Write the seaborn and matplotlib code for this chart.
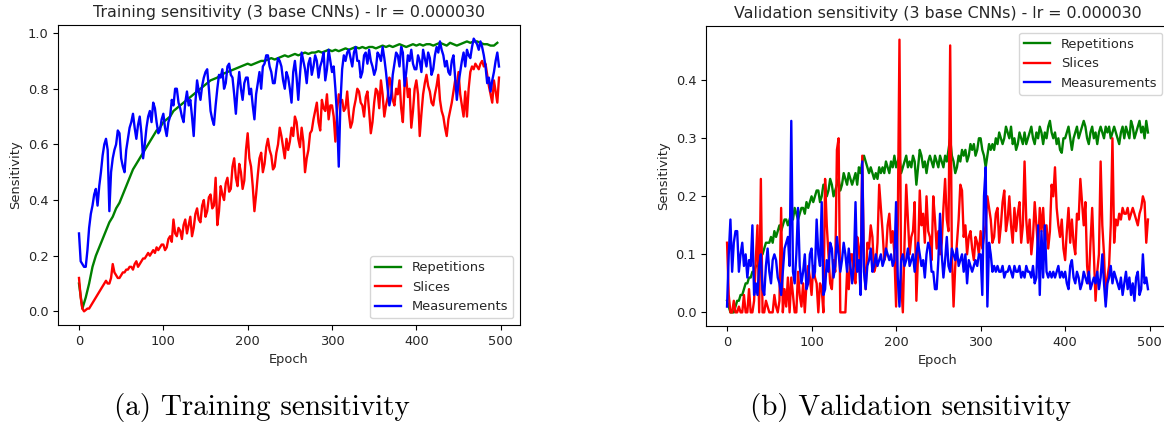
import numpy as np
import pandas as pd
import matplotlib
matplotlib.use("Agg")
import matplotlib.pyplot as plt
import seaborn as sns

# Most curves are logged every 2 epochs; the smooth training curve every 4
epochs = np.arange(0, 500, 2)
epochs_coarse = np.arange(0, 500, 4)

series_names = ["Repetitions", "Slices", "Measurements"]
series_colors = {"Repetitions": "green", "Slices": "red", "Measurements": "blue"}

train_repetitions = [
    0.10, 0.01, 0.05, 0.10, 0.16, 0.20, 0.23, 0.26, 0.29, 0.32, 0.34, 0.37, 0.39, 0.42, 0.45, 0.48, 0.51, 0.53, 0.55, 0.57, 0.59, 0.61, 0.63, 0.65, 0.66,
    0.68, 0.69, 0.70, 0.72, 0.73, 0.74, 0.75, 0.76, 0.77, 0.78, 0.79, 0.80, 0.81, 0.82, 0.83, 0.835, 0.84, 0.85, 0.855, 0.86, 0.865, 0.87, 0.875, 0.88, 0.885,
    0.89, 0.885, 0.89, 0.895, 0.90, 0.90, 0.905, 0.91, 0.905, 0.91, 0.915, 0.92, 0.915, 0.92, 0.925, 0.92, 0.925, 0.93, 0.925, 0.93, 0.93, 0.935, 0.93, 0.935, 0.94,
    0.935, 0.94, 0.935, 0.94, 0.945, 0.94, 0.945, 0.95, 0.945, 0.95, 0.945, 0.95, 0.95, 0.945, 0.95, 0.955, 0.95, 0.955, 0.95, 0.955, 0.96, 0.955, 0.95, 0.955, 0.96,
    0.955, 0.96, 0.955, 0.96, 0.96, 0.955, 0.96, 0.965, 0.96, 0.955, 0.965, 0.96, 0.955, 0.96, 0.965, 0.97, 0.965, 0.97, 0.97, 0.965, 0.96, 0.96, 0.955, 0.955, 0.965,
]
train_slices = [
    0.12, 0.05, 0.01, 0.0, 0.005, 0.01, 0.01, 0.02, 0.03, 0.04, 0.05, 0.06, 0.07, 0.08, 0.09, 0.10, 0.11, 0.10, 0.10, 0.12, 0.17, 0.14, 0.13, 0.12, 0.12,
    0.13, 0.14, 0.14, 0.15, 0.15, 0.16, 0.16, 0.15, 0.17, 0.18, 0.16, 0.17, 0.18, 0.19, 0.19, 0.20, 0.21, 0.20, 0.21, 0.22, 0.21, 0.23, 0.22, 0.23, 0.24,
    0.24, 0.22, 0.23, 0.26, 0.27, 0.25, 0.33, 0.28, 0.27, 0.30, 0.29, 0.26, 0.31, 0.33, 0.28, 0.31, 0.34, 0.27, 0.30, 0.35, 0.37, 0.33, 0.32, 0.38, 0.40,
    0.34, 0.36, 0.41, 0.42, 0.37, 0.38, 0.48, 0.31, 0.36, 0.45, 0.42, 0.40, 0.46, 0.48, 0.43, 0.44, 0.52, 0.55, 0.48, 0.45, 0.53, 0.50, 0.44, 0.47, 0.58,
    0.64, 0.55, 0.52, 0.45, 0.36, 0.42, 0.49, 0.55, 0.57, 0.50, 0.53, 0.59, 0.62, 0.58, 0.56, 0.51, 0.52, 0.57, 0.60, 0.66, 0.63, 0.59, 0.55, 0.62, 0.58,
    0.61, 0.66, 0.63, 0.70, 0.68, 0.62, 0.59, 0.66, 0.61, 0.50, 0.55, 0.58, 0.64, 0.65, 0.69, 0.72, 0.75, 0.68, 0.65, 0.76, 0.73, 0.72, 0.78, 0.69, 0.74,
    0.74, 0.70, 0.61, 0.72, 0.78, 0.75, 0.76, 0.72, 0.73, 0.79, 0.71, 0.66, 0.68, 0.73, 0.76, 0.80, 0.79, 0.75, 0.74, 0.70, 0.77, 0.79, 0.72, 0.64, 0.68,
    0.75, 0.80, 0.79, 0.73, 0.83, 0.78, 0.70, 0.74, 0.77, 0.84, 0.82, 0.76, 0.74, 0.80, 0.78, 0.83, 0.73, 0.68, 0.81, 0.84, 0.77, 0.80, 0.66, 0.72, 0.80,
    0.83, 0.78, 0.63, 0.71, 0.78, 0.82, 0.85, 0.81, 0.79, 0.75, 0.74, 0.78, 0.81, 0.85, 0.76, 0.72, 0.70, 0.66, 0.63, 0.69, 0.72, 0.75, 0.79, 0.83, 0.81,
    0.86, 0.78, 0.74, 0.70, 0.79, 0.70, 0.80, 0.86, 0.88, 0.87, 0.89, 0.88, 0.87, 0.89, 0.90, 0.88, 0.89, 0.85, 0.81, 0.78, 0.75, 0.83, 0.79, 0.75, 0.84,
]
train_measurements = [
    0.28, 0.18, 0.17, 0.16, 0.16, 0.22, 0.30, 0.35, 0.38, 0.42, 0.44, 0.38, 0.45, 0.50, 0.56, 0.60, 0.62, 0.58, 0.36, 0.50, 0.55, 0.58, 0.60, 0.65, 0.64,
    0.55, 0.52, 0.50, 0.58, 0.62, 0.66, 0.68, 0.71, 0.66, 0.62, 0.67, 0.70, 0.64, 0.55, 0.60, 0.66, 0.70, 0.72, 0.68, 0.75, 0.73, 0.68, 0.64, 0.65, 0.69,
    0.71, 0.66, 0.63, 0.68, 0.70, 0.76, 0.74, 0.80, 0.80, 0.75, 0.73, 0.70, 0.68, 0.75, 0.79, 0.74, 0.76, 0.70, 0.63, 0.75, 0.83, 0.79, 0.76, 0.81, 0.84,
    0.86, 0.87, 0.80, 0.72, 0.69, 0.67, 0.74, 0.80, 0.85, 0.84, 0.87, 0.80, 0.82, 0.88, 0.89, 0.85, 0.84, 0.78, 0.71, 0.80, 0.86, 0.80, 0.76, 0.82, 0.84,
    0.84, 0.78, 0.80, 0.74, 0.69, 0.78, 0.82, 0.86, 0.80, 0.88, 0.89, 0.92, 0.92, 0.88, 0.86, 0.82, 0.82, 0.87, 0.91, 0.90, 0.88, 0.83, 0.80, 0.86, 0.84,
    0.80, 0.75, 0.86, 0.90, 0.84, 0.76, 0.85, 0.93, 0.90, 0.87, 0.82, 0.89, 0.91, 0.85, 0.88, 0.92, 0.90, 0.84, 0.88, 0.90, 0.93, 0.83, 0.87, 0.94, 0.90,
    0.86, 0.88, 0.80, 0.70, 0.52, 0.75, 0.87, 0.92, 0.90, 0.93, 0.94, 0.91, 0.88, 0.93, 0.95, 0.90, 0.90, 0.84, 0.86, 0.92, 0.93, 0.89, 0.94, 0.90, 0.88,
    0.85, 0.87, 0.93, 0.92, 0.90, 0.95, 0.91, 0.86, 0.80, 0.74, 0.77, 0.85, 0.89, 0.93, 0.92, 0.88, 0.95, 0.93, 0.81, 0.86, 0.92, 0.90, 0.94, 0.89, 0.87,
    0.87, 0.92, 0.90, 0.86, 0.94, 0.91, 0.88, 0.93, 0.91, 0.85, 0.87, 0.92, 0.95, 0.93, 0.97, 0.94, 0.92, 0.88, 0.90, 0.86, 0.85, 0.90, 0.92, 0.84, 0.76,
    0.82, 0.86, 0.90, 0.93, 0.88, 0.94, 0.92, 0.91, 0.95, 0.98, 0.97, 0.96, 0.94, 0.97, 0.95, 0.92, 0.88, 0.82, 0.84, 0.79, 0.83, 0.86, 0.90, 0.93, 0.88,
]

val_repetitions = [
    0.02, 0.01, 0.0, 0.0, 0.0, 0.01, 0.02, 0.02, 0.03, 0.03, 0.04, 0.05, 0.05, 0.06, 0.06, 0.07, 0.07, 0.08, 0.08, 0.09, 0.10, 0.10, 0.11, 0.12, 0.12,
    0.12, 0.13, 0.12, 0.14, 0.13, 0.14, 0.15, 0.14, 0.15, 0.16, 0.16, 0.15, 0.16, 0.17, 0.16, 0.18, 0.17, 0.16, 0.17, 0.18, 0.18, 0.17, 0.19, 0.18, 0.19,
    0.20, 0.19, 0.20, 0.21, 0.21, 0.19, 0.20, 0.22, 0.22, 0.20, 0.21, 0.23, 0.22, 0.20, 0.21, 0.22, 0.23, 0.21, 0.22, 0.24, 0.23, 0.22, 0.24, 0.23, 0.22,
    0.23, 0.24, 0.22, 0.25, 0.24, 0.26, 0.27, 0.26, 0.25, 0.24, 0.25, 0.24, 0.23, 0.24, 0.23, 0.25, 0.24, 0.25, 0.24, 0.26, 0.25, 0.24, 0.26, 0.25, 0.27,
    0.25, 0.26, 0.27, 0.24, 0.25, 0.26, 0.27, 0.25, 0.26, 0.25, 0.27, 0.26, 0.22, 0.25, 0.28, 0.27, 0.25, 0.26, 0.24, 0.26, 0.27, 0.26, 0.25, 0.27, 0.26,
    0.25, 0.27, 0.26, 0.25, 0.27, 0.26, 0.28, 0.30, 0.27, 0.26, 0.24, 0.25, 0.27, 0.26, 0.28, 0.27, 0.28, 0.26, 0.27, 0.29, 0.28, 0.29, 0.27, 0.28, 0.30,
    0.30, 0.28, 0.27, 0.25, 0.27, 0.29, 0.28, 0.29, 0.28, 0.30, 0.29, 0.31, 0.30, 0.29, 0.30, 0.32, 0.31, 0.30, 0.32, 0.29, 0.30, 0.28, 0.29, 0.31, 0.30,
    0.29, 0.31, 0.29, 0.30, 0.31, 0.32, 0.30, 0.29, 0.31, 0.30, 0.32, 0.31, 0.29, 0.31, 0.30, 0.32, 0.33, 0.31, 0.30, 0.31, 0.29, 0.30, 0.28, 0.275, 0.30,
    0.30, 0.31, 0.32, 0.30, 0.28, 0.30, 0.31, 0.32, 0.30, 0.31, 0.32, 0.33, 0.32, 0.30, 0.29, 0.31, 0.32, 0.30, 0.31, 0.29, 0.31, 0.32, 0.31, 0.30, 0.32,
    0.31, 0.32, 0.30, 0.31, 0.32, 0.31, 0.30, 0.29, 0.31, 0.32, 0.30, 0.32, 0.31, 0.30, 0.33, 0.32, 0.30, 0.31, 0.32, 0.33, 0.31, 0.32, 0.30, 0.33, 0.31,
]
val_slices = [
    0.12, 0.03, 0.0, 0.0, 0.02, 0.0, 0.0, 0.01, 0.0, 0.0, 0.03, 0.0, 0.0, 0.04, 0.0, 0.0, 0.02, 0.09, 0.15, 0.0, 0.23, 0.0, 0.0, 0.02, 0.01,
    0.0, 0.0, 0.0, 0.03, 0.01, 0.0, 0.02, 0.18, 0.0, 0.04, 0.01, 0.06, 0.0, 0.06, 0.03, 0.0, 0.0, 0.07, 0.03, 0.01, 0.05, 0.0, 0.05, 0.08, 0.06,
    0.03, 0.08, 0.06, 0.05, 0.0, 0.05, 0.04, 0.0, 0.23, 0.15, 0.10, 0.05, 0.04, 0.09, 0.07, 0.28, 0.30, 0.0, 0.0, 0.0, 0.0, 0.07, 0.04, 0.10, 0.10,
    0.06, 0.05, 0.13, 0.11, 0.06, 0.27, 0.08, 0.04, 0.12, 0.11, 0.15, 0.13, 0.07, 0.08, 0.12, 0.22, 0.18, 0.14, 0.09, 0.10, 0.15, 0.17, 0.12, 0.14, 0.10,
    0.01, 0.15, 0.47, 0.05, 0.0, 0.12, 0.22, 0.16, 0.10, 0.13, 0.14, 0.19, 0.02, 0.10, 0.21, 0.15, 0.17, 0.12, 0.20, 0.14, 0.13, 0.09, 0.20, 0.16, 0.11,
    0.14, 0.10, 0.12, 0.18, 0.23, 0.16, 0.14, 0.46, 0.10, 0.01, 0.08, 0.12, 0.16, 0.22, 0.21, 0.13, 0.15, 0.10, 0.13, 0.14, 0.11, 0.09, 0.13, 0.12, 0.10,
    0.14, 0.11, 0.13, 0.15, 0.20, 0.18, 0.16, 0.12, 0.13, 0.17, 0.18, 0.12, 0.15, 0.19, 0.21, 0.14, 0.16, 0.20, 0.15, 0.12, 0.18, 0.14, 0.17, 0.19, 0.12,
    0.15, 0.26, 0.16, 0.12, 0.16, 0.10, 0.13, 0.19, 0.15, 0.11, 0.18, 0.14, 0.18, 0.12, 0.15, 0.11, 0.14, 0.22, 0.20, 0.25, 0.18, 0.15, 0.13, 0.16, 0.11,
    0.09, 0.14, 0.18, 0.12, 0.16, 0.12, 0.10, 0.17, 0.16, 0.23, 0.19, 0.15, 0.19, 0.08, 0.05, 0.12, 0.18, 0.10, 0.02, 0.07, 0.10, 0.26, 0.15, 0.10, 0.02,
    0.06, 0.08, 0.15, 0.30, 0.12, 0.16, 0.15, 0.17, 0.16, 0.18, 0.17, 0.17, 0.18, 0.16, 0.17, 0.18, 0.17, 0.16, 0.15, 0.17, 0.18, 0.20, 0.19, 0.12, 0.16,
]
val_measurements = [
    0.01, 0.10, 0.16, 0.07, 0.12, 0.14, 0.14, 0.07, 0.10, 0.12, 0.08, 0.10, 0.06, 0.09, 0.08, 0.15, 0.03, 0.05, 0.03, 0.08, 0.10, 0.04, 0.03, 0.08, 0.11,
    0.07, 0.05, 0.09, 0.10, 0.09, 0.06, 0.05, 0.03, 0.07, 0.11, 0.12, 0.13, 0.08, 0.33, 0.07, 0.05, 0.10, 0.18, 0.08, 0.05, 0.07, 0.10, 0.04, 0.05, 0.10,
    0.11, 0.06, 0.07, 0.16, 0.10, 0.08, 0.19, 0.03, 0.04, 0.09, 0.07, 0.12, 0.11, 0.06, 0.08, 0.13, 0.10, 0.07, 0.09, 0.12, 0.10, 0.07, 0.11, 0.08, 0.05,
    0.08, 0.19, 0.07, 0.09, 0.03, 0.26, 0.07, 0.04, 0.08, 0.09, 0.11, 0.07, 0.08, 0.10, 0.08, 0.09, 0.10, 0.08, 0.09, 0.11, 0.10, 0.09, 0.10, 0.08, 0.09,
    0.19, 0.06, 0.01, 0.09, 0.10, 0.08, 0.09, 0.11, 0.08, 0.09, 0.10, 0.07, 0.10, 0.12, 0.10, 0.08, 0.09, 0.06, 0.10, 0.12, 0.11, 0.07, 0.07, 0.04, 0.04,
    0.09, 0.17, 0.10, 0.06, 0.09, 0.13, 0.08, 0.07, 0.11, 0.10, 0.09, 0.11, 0.08, 0.09, 0.10, 0.07, 0.10, 0.05, 0.09, 0.08, 0.07, 0.08, 0.09, 0.08, 0.10,
    0.10, 0.03, 0.20, 0.25, 0.01, 0.12, 0.10, 0.07, 0.08, 0.07, 0.08, 0.07, 0.07, 0.08, 0.06, 0.07, 0.07, 0.08, 0.07, 0.06, 0.08, 0.07, 0.07, 0.08, 0.06,
    0.07, 0.06, 0.08, 0.07, 0.07, 0.06, 0.08, 0.05, 0.06, 0.15, 0.03, 0.14, 0.06, 0.15, 0.07, 0.06, 0.07, 0.06, 0.07, 0.06, 0.07, 0.08, 0.06, 0.07, 0.06,
    0.07, 0.05, 0.04, 0.08, 0.09, 0.06, 0.05, 0.07, 0.06, 0.04, 0.05, 0.07, 0.06, 0.05, 0.07, 0.04, 0.05, 0.06, 0.05, 0.07, 0.04, 0.06, 0.10, 0.05, 0.01,
    0.05, 0.06, 0.08, 0.05, 0.07, 0.06, 0.05, 0.04, 0.06, 0.03, 0.05, 0.07, 0.04, 0.06, 0.03, 0.05, 0.02, 0.06, 0.07, 0.03, 0.04, 0.10, 0.05, 0.06, 0.04,
]

panel_titles = [
    "Training sensitivity (3 base CNNs) - lr = 0.000030",
    "Validation sensitivity (3 base CNNs) - lr = 0.000030",
]
captions = ["(a) Training sensitivity", "(b) Validation sensitivity"]


def long_form(curves):
    frames = [
        pd.DataFrame({"Epoch": x, "Sensitivity": vals, "Series": name})
        for name, (x, vals) in zip(series_names, curves)
    ]
    return pd.concat(frames, ignore_index=True)


train_df = long_form([(epochs_coarse, train_repetitions),
                      (epochs, train_slices),
                      (epochs, train_measurements)])
val_df = long_form([(epochs, val_repetitions),
                    (epochs, val_slices),
                    (epochs, val_measurements)])

plt.rcParams.update({
    "font.family": ["DejaVu Sans"],
    "font.size": 9.4,
    "axes.titlesize": 11.4,
    "axes.labelsize": 9.4,
    "xtick.labelsize": 9.4,
    "ytick.labelsize": 9.4,
    "legend.fontsize": 9.4,
    "text.color": "#262626",
    "axes.labelcolor": "#262626",
    "xtick.labelcolor": "#262626",
    "ytick.labelcolor": "#262626",
})

W, H = 1164, 425
fig = plt.figure(figsize=(W / 100, H / 100), dpi=100)


def frac_box(left, top, right, bottom):
    return [left / W, 1 - bottom / H, (right - left) / W, (bottom - top) / H]


ax_train = fig.add_axes(frac_box(58, 25, 520, 325))
ax_val = fig.add_axes(frac_box(706, 26, 1169, 326))

for ax, df, title, loc in [
    (ax_train, train_df, panel_titles[0], "lower right"),
    (ax_val, val_df, panel_titles[1], "upper right"),
]:
    sns.lineplot(data=df, x="Epoch", y="Sensitivity", hue="Series",
                 hue_order=series_names, palette=series_colors,
                 estimator=None, linewidth=1.7, ax=ax)
    ax.set_title(title)
    ax.set_xticks([0, 100, 200, 300, 400, 500])
    sns.move_legend(ax, loc, title=None, frameon=True)

fig.text(262 / W, 1 - 408 / H, captions[0], ha="center", va="center",
         family="cmr10", fontsize=21, color="black")
fig.text(910 / W, 1 - 408 / H, captions[1], ha="center", va="center",
         family="cmr10", fontsize=21, color="black")

fig.savefig("out.png", dpi=100)
